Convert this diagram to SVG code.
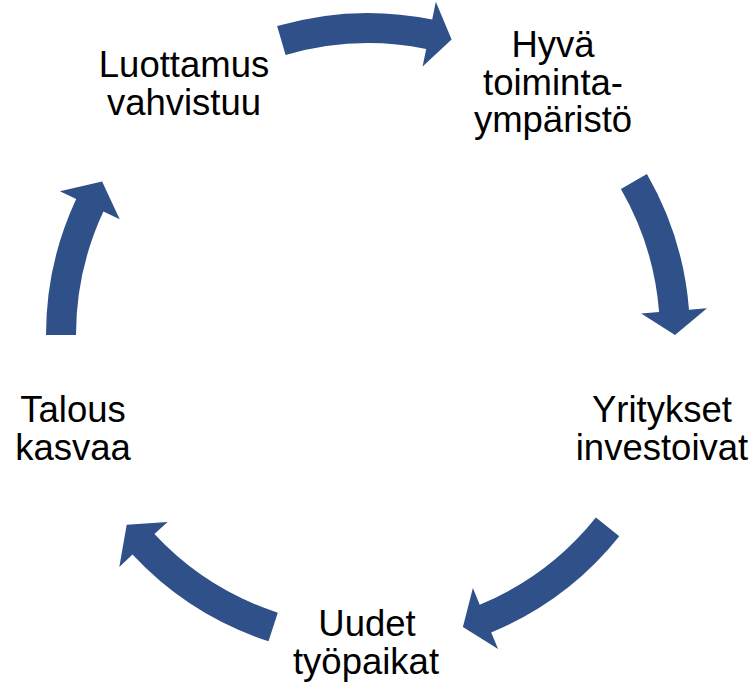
<svg xmlns="http://www.w3.org/2000/svg" width="754" height="686" viewBox="0 0 754 686">
<style>
.arr{fill:#2F5089;stroke:none}
.lbl{font-family:"Liberation Sans",Arial,sans-serif;font-size:36.5px;fill:#000;text-anchor:middle}
</style>
<rect width="754" height="686" fill="#fff"/>
<g id="connectors">
<path class="arr" d="M277.1,26.1 A322,322 0 0 1 432.2,19.5 L435.8,1.8 L451.6,39.6 L422.6,66.5 L426.2,48.9 A292,292 0 0 0 285.6,54.9 Z"/>
<path class="arr" d="M646.9,174 A322,322 0 0 1 689.0,309.7 L707.0,308.3 L675,335 L641.2,313.5 L659.1,312.1 A292,292 0 0 0 620.9,189 Z"/>
<path class="arr" d="M619.3,536.3 A322,322 0 0 1 491.2,632.5 L498.1,649.1 L462.9,627.0 L472.9,588.1 L479.7,604.8 A292,292 0 0 0 595.9,517.6 Z"/>
<path class="arr" d="M268.5,641.3 A322,322 0 0 1 132.5,554.6 L119.3,566.9 L126.7,524.8 L167.6,521.9 L154.4,534.1 A292,292 0 0 0 277.8,612.7 Z"/>
<path class="arr" d="M46,335 A322,322 0 0 1 76.2,198.9 L59.9,191.3 L102.1,181.5 L119.7,219.2 L103.4,211.6 A292,292 0 0 0 76,335 Z"/>
</g>
<g id="node-hyva">
<text class="lbl" x="553" y="57">Hyvä</text>
<text class="lbl" x="553" y="95">toiminta-</text>
<text class="lbl" x="553" y="132">ympäristö</text>
</g>
<g id="node-yritykset">
<text class="lbl" x="662" y="422">Yritykset</text>
<text class="lbl" x="662" y="460">investoivat</text>
</g>
<g id="node-uudet">
<text class="lbl" x="367" y="636">Uudet</text>
<text class="lbl" x="366" y="674">työpaikat</text>
</g>
<g id="node-talous">
<text class="lbl" x="73" y="422">Talous</text>
<text class="lbl" x="73" y="460">kasvaa</text>
</g>
<g id="node-luottamus">
<text class="lbl" x="184" y="77">Luottamus</text>
<text class="lbl" x="184" y="115">vahvistuu</text>
</g>
</svg>
